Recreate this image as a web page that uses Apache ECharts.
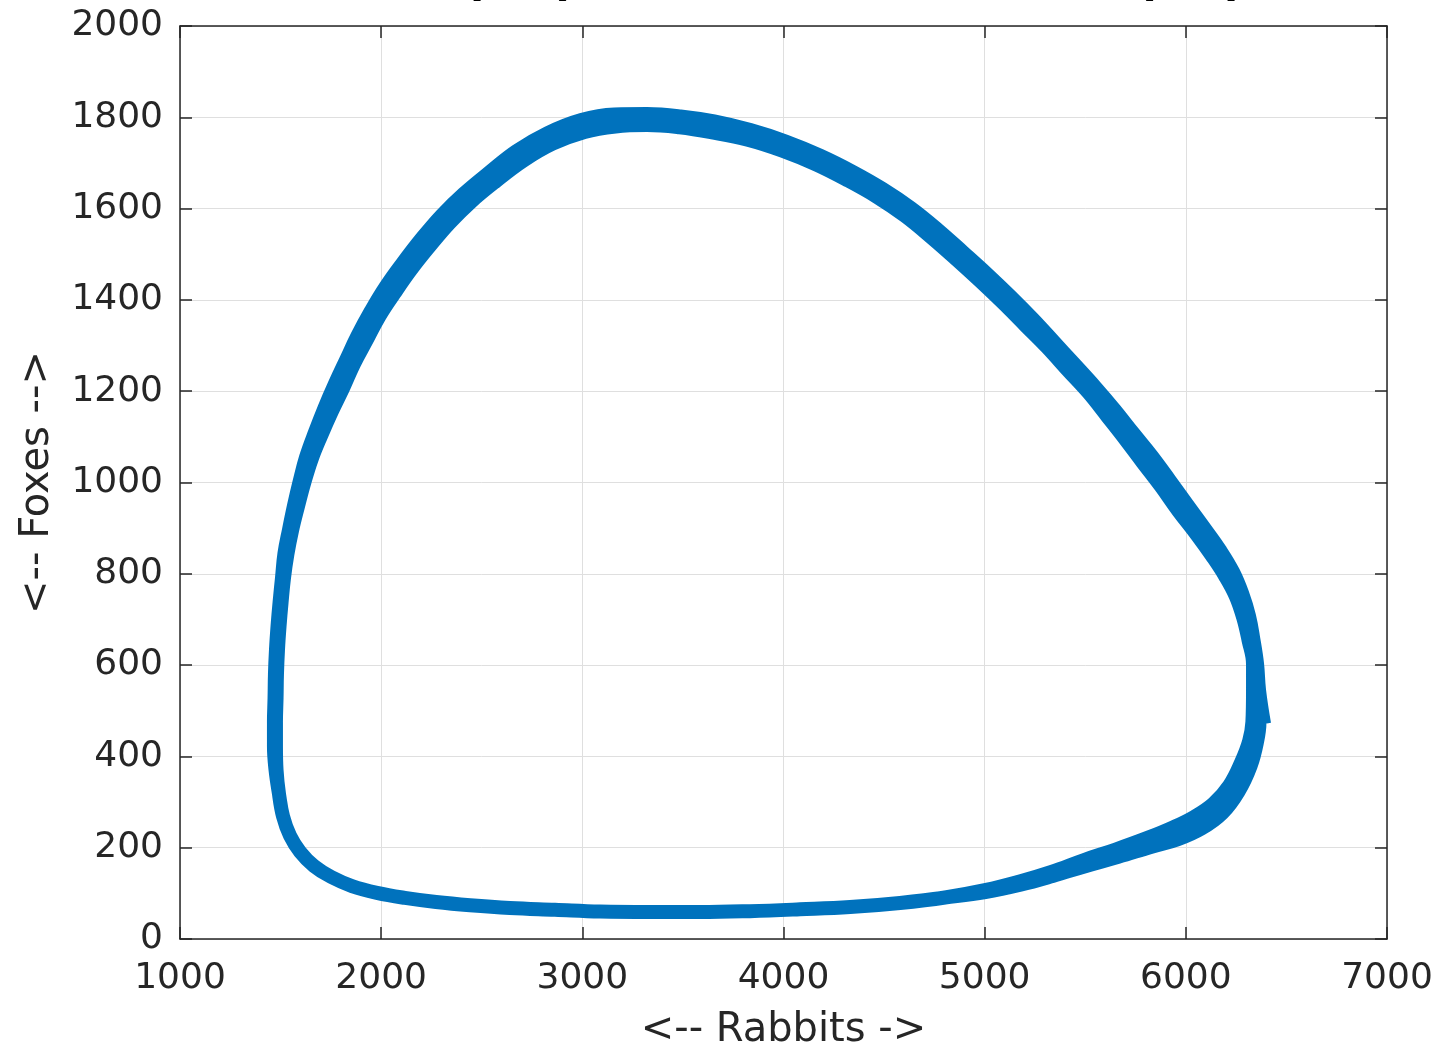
<!DOCTYPE html>
<html>
<head>
<meta charset="utf-8">
<script src="https://cdn.jsdelivr.net/npm/echarts@6/dist/echarts.min.js"></script>
<style>
html,body{margin:0;padding:0;background:#fff;}
#chart{width:1439px;height:1044px;}
</style>
</head>
<body>
<div id="chart"></div>
<script>
// Tick values
const xTicks = [1000, 2000, 3000, 4000, 5000, 6000, 7000];
const yTicks = [0, 200, 400, 600, 800, 1000, 1200, 1400, 1600, 1800, 2000];

// Trajectory: two passes around the cycle (outer pass, then inner pass)
const rabbitsPass1 = [6389, 6364, 6354, 6336, 6314, 6280, 6235, 6170, 6096, 6008, 5918, 5829, 5737, 5647, 5550, 5445, 5341, 5238, 5128, 5014, 4894, 4769, 4634, 4493, 4342, 4182, 4011, 3835, 3655, 3488, 3322, 3159, 2995, 2826, 2673, 2534, 2409, 2302, 2202, 2107, 2021, 1948, 1883, 1825, 1770, 1717, 1670, 1627, 1595, 1567, 1542, 1519, 1507, 1495, 1485, 1477, 1472, 1470, 1467, 1467, 1475, 1492, 1512, 1547, 1597, 1666, 1751, 1855, 1979, 2118, 2273, 2442, 2640, 2864, 3088, 3336, 3585, 3833, 4082, 4331, 4579, 4803, 5003, 5178, 5338, 5504, 5665, 5830, 5958, 6078, 6182, 6262, 6322, 6353, 6366];
const foxesPass1   = [471, 545, 603, 656, 708, 757, 804, 852, 898, 951, 1006, 1059, 1109, 1159, 1209, 1260, 1310, 1359, 1408, 1456, 1504, 1553, 1601, 1643, 1681, 1716, 1747, 1772, 1791, 1802, 1807, 1806, 1794, 1765, 1726, 1678, 1632, 1586, 1535, 1481, 1428, 1375, 1322, 1268, 1216, 1162, 1109, 1056, 1003, 950, 897, 844, 791, 738, 686, 633, 580, 528, 475, 423, 370, 318, 269, 226, 191, 160, 136, 116, 101, 90, 81, 74, 68, 64, 60, 59, 59, 61, 65, 70, 79, 91, 103, 119, 138, 160, 180, 202, 218, 242, 276, 323, 379, 430, 475];
const rabbitsPass2 = [6334, 6334, 6312, 6285, 6248, 6195, 6130, 6055, 5964, 5875, 5785, 5698, 5609, 5517, 5413, 5308, 5202, 5094, 4980, 4861, 4737, 4604, 4467, 4319, 4161, 3994, 3822, 3645, 3483, 3321, 3165, 3011, 2852, 2707, 2568, 2445, 2342, 2244, 2150, 2067, 1991, 1927, 1865, 1811, 1754, 1702, 1655, 1618, 1586, 1557, 1534, 1517, 1505, 1495, 1487, 1482, 1480, 1477, 1477, 1480, 1492, 1512, 1547, 1597, 1666, 1751, 1855, 1979, 2118, 2273, 2442, 2640, 2864, 3088, 3336, 3585, 3833, 4082, 4331, 4579, 4803, 5001, 5174, 5332, 5494, 5651, 5813, 5934, 6043, 6138, 6217, 6276, 6315, 6331, 6334];
const foxesPass2   = [545, 602, 654, 704, 751, 795, 839, 885, 937, 992, 1044, 1095, 1145, 1196, 1246, 1297, 1344, 1392, 1440, 1488, 1536, 1584, 1625, 1662, 1697, 1727, 1751, 1767, 1778, 1783, 1780, 1768, 1742, 1705, 1659, 1614, 1569, 1519, 1467, 1415, 1364, 1311, 1260, 1207, 1155, 1103, 1052, 1000, 947, 895, 843, 791, 738, 686, 633, 580, 528, 475, 423, 370, 318, 269, 226, 191, 160, 136, 116, 101, 90, 81, 74, 68, 64, 60, 59, 59, 61, 65, 70, 79, 91, 107, 126, 147, 173, 196, 222, 244, 268, 297, 337, 388, 434, 476, 545];

const rabbits = rabbitsPass1.concat(rabbitsPass2);
const foxes = foxesPass1.concat(foxesPass2);
const points = rabbits.map((r, i) => [r, foxes[i]]);

const FONT = 'DejaVu Sans';
const AX = '#262626';
const xMin = xTicks[0], xMax = xTicks[xTicks.length - 1], xInt = xTicks[1] - xTicks[0];
const yMin = yTicks[0], yMax = yTicks[yTicks.length - 1], yInt = yTicks[1] - yTicks[0];
const plain = v => String(v);

const chart = echarts.init(document.getElementById('chart'), null, {renderer: 'canvas'});
const option = {
  backgroundColor: '#ffffff',
  animation: false,
  title: {
    text: 'Rabbits (R0) versus Initial Foxes (F0)',
    left: 235,
    top: -46,
    textStyle: {fontFamily: FONT, fontSize: 48, fontWeight: 'bold', color: '#000000'}
  },
  grid: {left: 180, right: 52, top: 26, bottom: 105, containLabel: false, outerBoundsMode: 'none'},
  xAxis: [{
    type: 'value', min: xMin, max: xMax, interval: xInt, position: 'bottom',
    name: '<-- Rabbits ->', nameLocation: 'middle', nameGap: 72,
    nameTextStyle: {fontFamily: FONT, fontSize: 40, color: AX},
    axisLine: {show: true, onZero: false, lineStyle: {color: AX, width: 1.5}},
    axisTick: {show: true, inside: true, length: 12, lineStyle: {color: AX, width: 1.5}},
    axisLabel: {fontFamily: FONT, fontSize: 36, color: AX, margin: 22, formatter: plain},
    splitLine: {show: true, lineStyle: {color: '#dfdfdf', width: 1}}
  }, {
    type: 'value', min: xMin, max: xMax, interval: xInt, position: 'top',
    axisLine: {show: true, onZero: false, lineStyle: {color: AX, width: 1.5}},
    axisTick: {show: true, inside: true, length: 12, lineStyle: {color: AX, width: 1.5}},
    axisLabel: {show: false}, splitLine: {show: false}
  }],
  yAxis: [{
    type: 'value', min: yMin, max: yMax, interval: yInt, position: 'left',
    name: '<-- Foxes -->', nameLocation: 'middle', nameGap: 122, nameRotate: 90,
    nameTextStyle: {fontFamily: FONT, fontSize: 40, color: AX},
    axisLine: {show: true, onZero: false, lineStyle: {color: AX, width: 1.5}},
    axisTick: {show: true, inside: true, length: 12, lineStyle: {color: AX, width: 1.5}},
    axisLabel: {fontFamily: FONT, fontSize: 36, color: AX, margin: 17, formatter: plain},
    splitLine: {show: true, lineStyle: {color: '#dfdfdf', width: 1}}
  }, {
    type: 'value', min: yMin, max: yMax, interval: yInt, position: 'right',
    axisLine: {show: true, onZero: false, lineStyle: {color: AX, width: 1.5}},
    axisTick: {show: true, inside: true, length: 12, lineStyle: {color: AX, width: 1.5}},
    axisLabel: {show: false}, splitLine: {show: false}
  }],
  series: [{
    type: 'line',
    xAxisIndex: 0, yAxisIndex: 0,
    data: points,
    showSymbol: false,
    smooth: 0.4,
    clip: false,
    lineStyle: {color: '#0072BD', width: 14, cap: 'butt', join: 'round'}
  }]
};
chart.setOption(option);
</script>
</body>
</html>
